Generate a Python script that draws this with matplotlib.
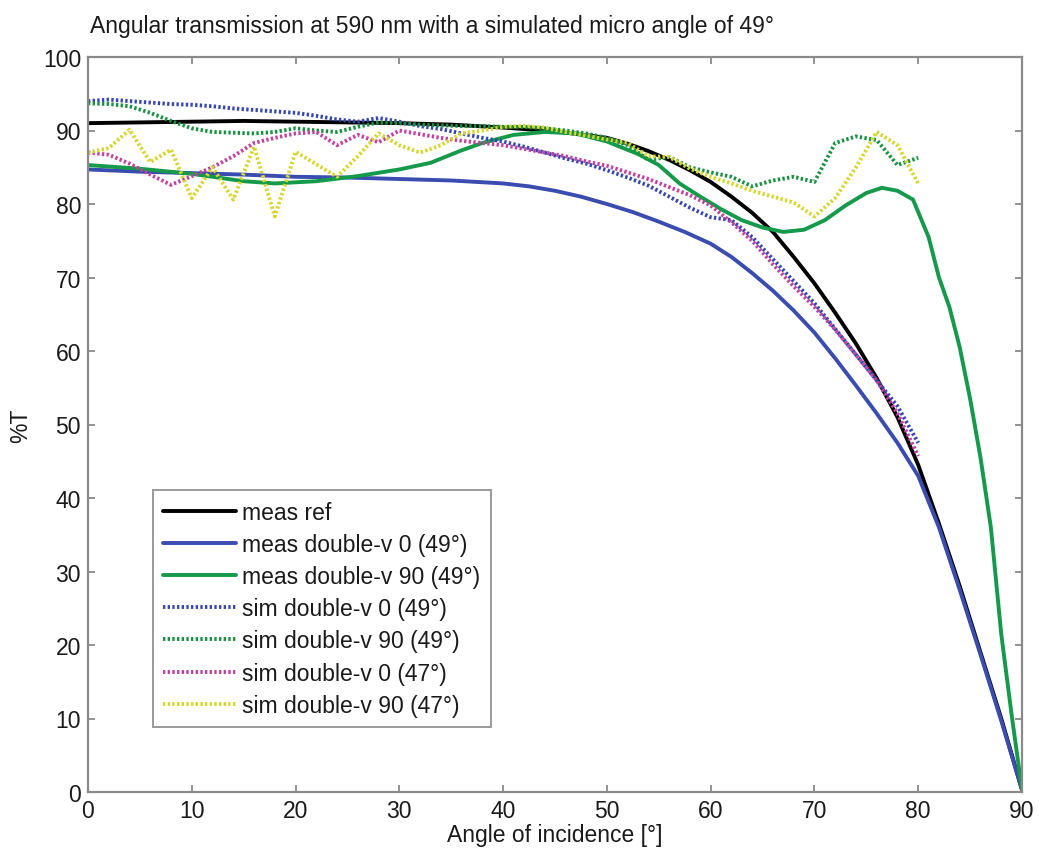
import matplotlib
matplotlib.use("Agg")
import matplotlib.pyplot as plt

plt.rcParams['font.family'] = ['Liberation Sans', 'DejaVu Sans']

# Measured curves (angle of incidence in degrees, transmission in %)
ang_ref = [0, 5, 10, 15, 20, 25, 30, 35, 40, 45, 50, 52, 54, 56, 58, 60, 62,
           64, 66, 68, 70, 72, 74, 76, 78, 80, 82, 84, 86, 88, 90]
t_ref = [91.0, 91.1, 91.2, 91.3, 91.2, 91.1, 91.0, 90.8, 90.4, 89.9, 89.0, 88.2,
         87.2, 86.0, 84.6, 83.0, 81.0, 78.8, 76.2, 72.8, 69.2, 65.2, 61.0, 56.3,
         51.0, 44.5, 36.5, 28.0, 19.0, 10.0, 0.3]

ang_m0 = [0, 5, 10, 15, 20, 25, 30, 35, 40, 42.5, 45, 47.5, 50, 52.5, 55,
          57.5, 60, 62, 64, 66, 68, 70, 72, 74, 76, 78, 80, 82, 84, 86, 88, 90]
t_m0 = [84.7, 84.4, 84.2, 84.0, 83.7, 83.6, 83.4, 83.2, 82.8, 82.4, 81.8, 81.0,
        80.0, 78.9, 77.6, 76.2, 74.6, 72.8, 70.6, 68.2, 65.5, 62.5, 59.0, 55.3,
        51.5, 47.5, 43.0, 36.0, 27.5, 18.7, 9.7, 0.3]

ang_m90 = [0, 5, 10, 15, 18, 22, 26, 30, 33, 36, 38, 41, 44, 47, 50, 53, 55,
           57, 59, 61, 63, 65, 67, 69, 71, 73, 75, 76.5, 78, 79.5, 81, 82, 83,
           84, 85, 86, 87, 88, 89, 90]
t_m90 = [85.3, 84.8, 84.1, 83.1, 82.8, 83.1, 83.8, 84.7, 85.6, 87.3, 88.3, 89.4,
         89.8, 89.6, 88.5, 86.8, 85.3, 82.8, 81.0, 79.3, 77.8, 76.8, 76.2, 76.5,
         77.8, 79.8, 81.5, 82.2, 81.8, 80.6, 75.5, 70.0, 66.0, 60.5, 53.5, 45.5,
         36.0, 21.5, 10.5, 0.3]

# Simulated curves, sampled every 2 degrees from 0 to 80
ang_sim = list(range(0, 81, 2))
t_s0_49 = [94.0, 94.2, 94.0, 93.8, 93.6, 93.5, 93.3, 93.0, 92.8, 92.6, 92.4,
           92.0, 91.5, 91.2, 91.7, 91.2, 90.6, 90.2, 89.6, 89.0, 88.5, 87.8,
           87.0, 86.2, 85.5, 84.6, 83.6, 82.5, 81.0, 79.5, 78.2, 77.8, 75.5,
           72.5, 69.5, 66.5, 63.0, 59.5, 56.0, 52.5, 47.5]
t_s90_49 = [93.7, 93.6, 93.3, 92.4, 91.3, 90.3, 89.8, 89.7, 89.6, 89.8, 90.3,
            90.0, 89.8, 90.5, 91.1, 91.0, 90.8, 90.7, 90.6, 90.6, 90.5, 90.5,
            90.3, 90.0, 89.6, 89.0, 88.0, 86.0, 86.4, 85.0, 84.3, 83.7, 82.4,
            83.2, 83.7, 83.0, 88.3, 89.2, 88.7, 85.3, 86.3]
t_s0_47 = [87.0, 86.7, 85.5, 84.0, 82.6, 83.8, 85.0, 86.5, 88.3, 89.0, 89.6,
           89.8, 88.0, 89.4, 88.4, 90.0, 89.5, 89.0, 88.6, 88.3, 88.0, 87.5,
           87.0, 86.5, 85.8, 85.2, 84.3, 83.4, 82.3, 81.2, 79.8, 77.5, 75.0,
           71.8, 68.8, 66.0, 62.9, 59.5, 56.0, 51.5, 45.7]
t_s90_47 = [87.0, 87.6, 90.1, 85.7, 87.4, 80.8, 85.0, 80.6, 87.8, 78.3, 87.1,
            85.4, 83.7, 86.5, 89.6, 88.0, 87.0, 88.0, 89.6, 90.0, 90.5, 90.6,
            90.4, 89.8, 89.3, 88.8, 88.3, 86.5, 86.4, 84.8, 83.7, 82.8, 81.8,
            81.0, 80.2, 78.3, 80.8, 85.0, 89.8, 88.0, 82.8]

labels = ["meas ref", "meas double-v 0 (49°)", "meas double-v 90 (49°)",
          "sim double-v 0 (49°)", "sim double-v 90 (49°)",
          "sim double-v 0 (47°)", "sim double-v 90 (47°)"]

FS = 16.5
TXT = '#1a1a1a'

fig = plt.figure(figsize=(10.39, 8.54), dpi=100)
ax = fig.add_axes([88 / 1039, 61 / 854, 934 / 1039, 735 / 854])

solid_kw = dict(linewidth=2.8, solid_capstyle='round', solid_joinstyle='round')
dot_kw = dict(linewidth=2.8, linestyle=(0, (0.6, 0.6)))

ax.plot(ang_ref, t_ref, color='#000000', label=labels[0], **solid_kw)
ax.plot(ang_m0, t_m0, color='#3a4caf', label=labels[1], **solid_kw)
ax.plot(ang_m90, t_m90, color='#15994a', label=labels[2], **solid_kw)
ax.plot(ang_sim, t_s0_49, color='#3546b2', label=labels[3], **dot_kw)
ax.plot(ang_sim, t_s90_49, color='#17913f', label=labels[4], **dot_kw)
ax.plot(ang_sim, t_s0_47, color='#c2409e', label=labels[5], **dot_kw)
ax.plot(ang_sim, t_s90_47, color='#d6d62c', label=labels[6], **dot_kw)

ax.set_xlim(0, 90)
ax.set_ylim(0, 100)
ax.set_xticks(range(0, 91, 10))
ax.set_yticks(range(0, 101, 10))
ax.tick_params(direction='in', length=5, width=1.2, color='#808080',
               labelsize=FS, top=True, right=True, pad=5, labelcolor=TXT)
for s in ax.spines.values():
    s.set_color('#8a8a8a')
    s.set_linewidth(1.6)

ax.set_xlabel("Angle of incidence [°]", fontsize=FS, color=TXT, labelpad=1)
ax.set_ylabel("%T", fontsize=FS, color=TXT)
ax.yaxis.set_label_coords(-0.060, 0.5)

fig.text(90 / 1039, 1 - 26 / 854,
         "Angular transmission at 590 nm with a simulated micro angle of 49°",
         fontsize=FS, ha='left', va='center', color=TXT)

leg = ax.legend(loc='lower left', bbox_to_anchor=(0.0696, 0.0884),
                borderaxespad=0, fontsize=FS, frameon=True, fancybox=False,
                labelspacing=0.4, handlelength=3.15, handletextpad=0.3,
                borderpad=0.45)
leg.get_frame().set_edgecolor('#808080')
leg.get_frame().set_linewidth(1.4)
for t in leg.get_texts():
    t.set_color(TXT)

fig.savefig("out.png", dpi=100, facecolor='white')
